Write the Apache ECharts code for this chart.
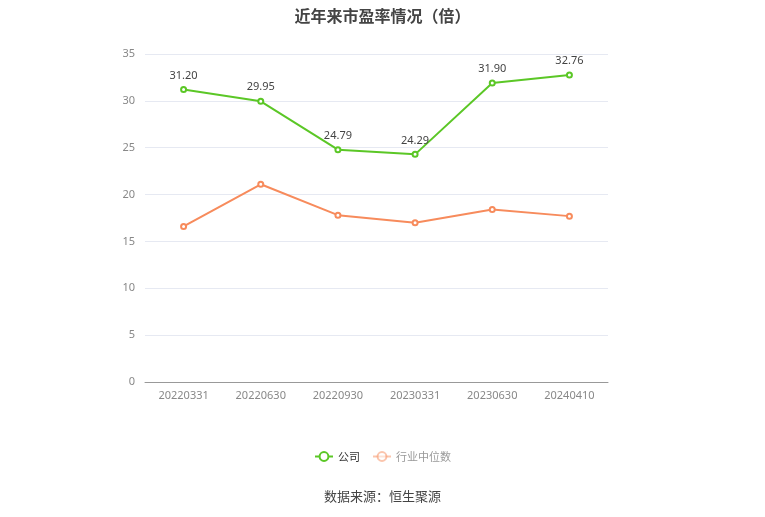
<!DOCTYPE html>
<html><head><meta charset="utf-8">
<script src="https://cdn.jsdelivr.net/npm/echarts@6/dist/echarts.min.js"></script>
<style>html,body{margin:0;padding:0;background:#fff}#c{width:765px;height:517px}</style>
</head><body><div id="c"></div>
<script>
const categories = ['20220331','20220630','20220930','20230331','20230630','20240410'];
const companyPE = [31.20, 29.95, 24.79, 24.29, 31.90, 32.76];
const industryMedianPE = [16.6, 21.1, 17.8, 17.0, 18.4, 17.7];
const yTicks = [0, 5, 10, 15, 20, 25, 30, 35];

const chart = echarts.init(document.getElementById('c'));
chart.setOption({
  backgroundColor: '#fff',
  title: {
    text: '近年来市盈率情况（倍）', left: 'center', top: 3,
    textStyle: { fontSize: 16, fontWeight: 'bold', color: '#444', fontFamily: 'Noto Sans CJK SC' }
  },
  legend: {
    bottom: 50, left: 'center', itemWidth: 18, itemHeight: 11, itemGap: 12,
    textStyle: { fontSize: 11, color: '#333', fontFamily: 'Noto Sans CJK SC' },
    data: [
      { name: '公司' },
      { name: '行业中位数', textStyle: { color: '#999' }, itemStyle: { opacity: 0.5 }, lineStyle: { opacity: 0.5 } }
    ]
  },
  graphic: [{
    type: 'text', left: 'center', top: 490,
    style: { text: '数据来源：恒生聚源', fontSize: 13, fill: '#444', fontFamily: 'Noto Sans CJK SC' }
  }],
  grid: { left: 145, right: 157, top: 54, bottom: 135 },
  xAxis: {
    type: 'category', data: categories, boundaryGap: true,
    axisLine: { lineStyle: { color: '#999' } },
    axisTick: { alignWithLabel: true, lineStyle: { color: '#999' } },
    axisLabel: { color: '#888', fontSize: 11, margin: 8, fontFamily: 'Noto Sans' }
  },
  yAxis: {
    type: 'value', min: yTicks[0], max: yTicks[yTicks.length - 1], interval: 5,
    axisLine: { show: false }, axisTick: { show: false },
    axisLabel: { color: '#888', fontSize: 11, margin: 10, fontFamily: 'Noto Sans' },
    splitLine: { lineStyle: { color: '#e6e9f2' } }
  },
  series: [
    {
      name: '公司', type: 'line', data: companyPE,
      symbol: 'emptyCircle', symbolSize: 5,
      itemStyle: { color: '#5bc726' }, lineStyle: { width: 2, color: '#5bc726' },
      label: { show: true, position: 'top', color: '#444', fontSize: 11, distance: 5,
        formatter: p => p.value.toFixed(2), fontFamily: 'Noto Sans' }
    },
    {
      name: '行业中位数', type: 'line', data: industryMedianPE,
      symbol: 'emptyCircle', symbolSize: 5,
      itemStyle: { color: '#f78b5c' }, lineStyle: { width: 2, color: '#f78b5c' }
    }
  ]
});
</script></body></html>
